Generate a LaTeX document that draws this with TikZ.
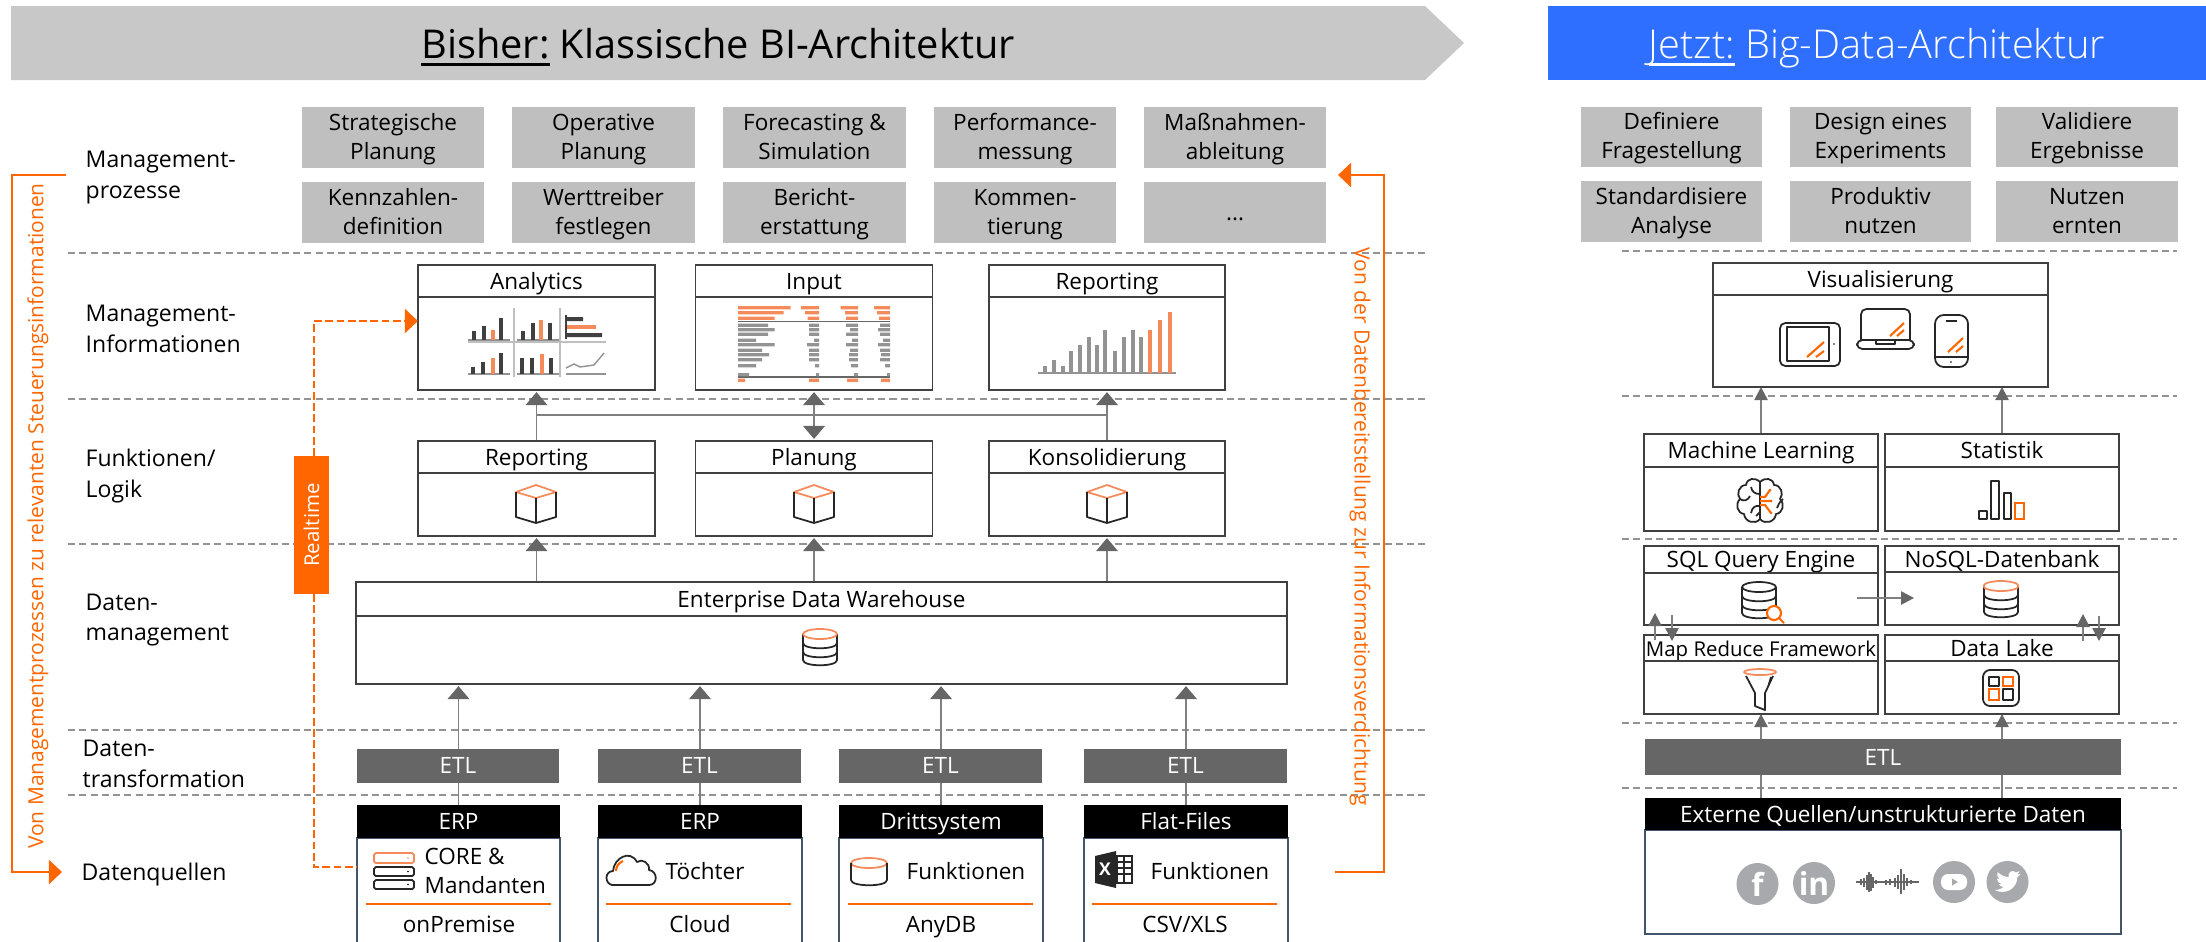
\documentclass[tikz,border=0pt]{standalone}
\usepackage{fontspec}
\setmainfont{Open Sans}
\newfontfamily\ltfont{Open Sans Light}
\usetikzlibrary{arrows.meta,backgrounds}
\definecolor{orColor}{HTML}{FF6600}
\definecolor{lorColor}{HTML}{F58B5A}
\definecolor{hdColor}{HTML}{C8C8C8}
\definecolor{blColor}{HTML}{2F6FFF}
\definecolor{pmColor}{HTML}{BFBFBF}
\definecolor{etlColor}{HTML}{666666}
\definecolor{lnColor}{HTML}{808080}
\definecolor{inkColor}{HTML}{404040}
\definecolor{srcColor}{HTML}{44546A}
\definecolor{socColor}{HTML}{A7A9AC}
\definecolor{barColor}{HTML}{939393}
\newcommand{\bdfont}{\fontsize{6.4}{8.2}\selectfont}
\newcommand{\lbfont}{\fontsize{6.55}{8.8}\selectfont}
\newcommand{\smfont}{\fontsize{5.8}{7}\selectfont}
\newcommand{\hdfont}{\fontsize{11.3}{13}\selectfont}
\newcommand{\hdul}[1]{\setbox0\hbox{#1}\rlap{\rule[-2.2pt]{\wd0}{.85pt}}\box0\relax}
\newcommand{\gbar}[3]{\fill[inkColor] (#1-2,#2) rectangle (#1+2,#3);}
\newcommand{\obar}[3]{\fill[lorColor] (#1-2,#2) rectangle (#1+2,#3);}
\newcommand{\lbar}[3]{\fill[barColor] (#1-2,#2) rectangle (#1+2,#3);}
\newcommand{\inrow}[6][barColor]{\fill[#1] (738,#2) rectangle (#3,#2+3.3) (819,#2) rectangle (#4,#2+3.3) (858,#2) rectangle (#5,#2+3.3) (890,#2) rectangle (#6,#2+3.3);}
\tikzset{
	cube/.pic={
		\draw[iconline,lorColor] (-20,0) -- (0,-7) -- (20,0) -- (0,6) -- cycle;
		\draw[iconline] (-20,0) -- (-20,25) -- (0,31) -- (20,25) -- (20,0) (0,6) -- (0,31);
	},
	dbtop/.pic={
		\draw[iconline] (-17,0) -- (-17,26) .. controls (-17,33) and (17,33) .. (17,26) -- (17,0);
		\draw[iconline] (-17,9) .. controls (-17,16) and (17,16) .. (17,9);
		\draw[iconline] (-17,18) .. controls (-17,25) and (17,25) .. (17,18);
	},
	brainhalf/.pic={
		\draw[iconline] (0,-18) .. controls (-5,-23) and (-13,-22) .. (-14,-15) .. controls (-21,-15) and (-24,-6) .. (-20,-1) .. controls (-25,4) and (-23,13) .. (-16,14) .. controls (-15,22) and (-5,25) .. (0,19) -- cycle;
	},
	pmbox/.style={fill=pmColor,minimum width=1.82cm,minimum height=.61cm,inner sep=0,outer sep=0,align=center,font=\bdfont,text height=14pt,text depth=1.6pt},
	sdbox/.style={pmbox,minimum width=1.81cm,minimum height=.605cm},
	labl/.style={anchor=west,align=left,inner sep=0,font=\lbfont},
	srctx/.style={labl,font=\bdfont},
	ttl/.style={draw=inkColor,fill=white,line width=.45pt,inner sep=0,outer sep=0,font=\bdfont,text height=5.5pt,text depth=.9pt},
	bdy/.style={draw=inkColor,fill=white,line width=.45pt,inner sep=0,outer sep=0},
	etlbox/.style={fill=etlColor,text=white,inner sep=0,outer sep=0,minimum height=.34cm,font=\bdfont,text height=5.5pt,text depth=.9pt},
	srcttl/.style={fill=black,text=white,inner sep=0,outer sep=0,minimum height=.33cm,font=\bdfont,text height=5.5pt,text depth=.9pt},
	srcbdy/.style={draw=srcColor,fill=white,line width=.45pt,inner sep=0,outer sep=0},
	sep/.style={dash pattern=on 2pt off 1.2pt,barColor,line width=.35pt},
	flow/.style={-{Triangle[length=3.7pt,width=6.2pt,color=etlColor]},lnColor,line width=.4pt,shorten >=.6pt},
	flowb/.style={{Triangle[length=3.7pt,width=6.2pt,color=etlColor]}-{Triangle[length=3.7pt,width=6.2pt,color=etlColor]},lnColor,line width=.4pt,shorten >=.6pt,shorten <=.6pt},
	flows/.style={-{Triangle[length=3.7pt,width=3.8pt,color=etlColor]},lnColor,line width=.4pt},
	orflow/.style={-{Triangle[length=3.7pt,width=6.8pt]},orColor,line width=.7pt},
	ordash/.style={orColor,line width=.7pt,dash pattern=on 2.2pt off 1pt},
	iconline/.style={line width=.5pt,black!85,line join=round},
	orline/.style={line width=.6pt,orColor},
	sodot/.style={circle,fill=socColor,text=white,minimum size=.42cm,inner sep=0,font=\bfseries\fontsize{9}{9}\selectfont},
	rottxt/.style={orColor,inner sep=0,font=\fontsize{5.95}{7}\selectfont}
}
\begin{document}
\begin{tikzpicture}[x=0.01cm,y=-0.01cm]
	\useasboundingbox (0,0) rectangle (2206,941);
	% headers
	\fill[hdColor] (11,6) -- (1425,6) -- (1464,43) -- (1425,80) -- (11,80) -- cycle;
	\node[font=\hdfont,text height=10pt,text depth=1.4pt] (hdold) at (718,43) {\hdul{Bisher:} Klassische BI-Architektur};
	\node[fill=blColor,minimum width=6.58cm,minimum height=.74cm,inner sep=0,text=white,font=\ltfont\hdfont,text height=10pt,text depth=1.4pt] (hdnew) at (1877,43) {\hdul{Jetzt:} Big-Data-Architektur};
	
	% row labels
	\node[labl] (lb1) at (85,178) {Management-\\prozesse};
	\node[labl] (lb2) at (85,329) {Management-\\Informationen};
	\node[labl] (lb3) at (85,476) {Funktionen/\\Logik};
	\node[labl] (lb4) at (85,620) {Daten-\\management};
	\node[labl] (lb5) at (82,764) {Daten-\\transformation};
	\node[labl] (lb6) at (81,874) {Datenquellen};
	
	% management processes
	\node[pmbox] (pm1) at (393,137.5) {Strategische\\Planung};
	\node[pmbox] (pm2) at (603.5,137.5) {Operative\\Planung};
	\node[pmbox] (pm3) at (814.5,137.5) {Forecasting \&\\Simulation};
	\node[pmbox] (pm4) at (1025,137.5) {Performance-\\messung};
	\node[pmbox] (pm5) at (1235,137.5) {Maßnahmen-\\ableitung};
	\node[pmbox] (pm6) at (393,212.5) {Kennzahlen-\\definition};
	\node[pmbox] (pm7) at (603.5,212.5) {Werttreiber\\festlegen};
	\node[pmbox] (pm8) at (814.5,212.5) {Bericht-\\erstattung};
	\node[pmbox] (pm9) at (1025,212.5) {Kommen-\\tierung};
	\node[pmbox,text height=5.5pt,text depth=.7pt] (pm10) at (1235,212.5) {...};
	
	\node[sdbox] (st1) at (1671.5,137) {Definiere\\Fragestellung};
	\node[sdbox] (st2) at (1880.5,137) {Design eines\\Experiments};
	\node[sdbox] (st3) at (2087,137) {Validiere\\Ergebnisse};
	\node[sdbox] (st4) at (1671.5,211.5) {Standardisiere\\Analyse};
	\node[sdbox] (st5) at (1880.5,211.5) {Produktiv\\nutzen};
	\node[sdbox] (st6) at (2087,211.5) {Nutzen\\ernten};
	
	% information boxes
	\node[ttl,minimum width=2.37cm,minimum height=.32cm] (an) at (536.5,281) {Analytics};
	\node[bdy,minimum width=2.37cm,minimum height=.93cm] (anb) at (536.5,343.5) {};
	\node[ttl,minimum width=2.37cm,minimum height=.32cm] (ip) at (814,281) {Input};
	\node[bdy,minimum width=2.37cm,minimum height=.93cm] (ipb) at (814,343.5) {};
	\node[ttl,minimum width=2.36cm,minimum height=.32cm] (rp) at (1107,281) {Reporting};
	\node[bdy,minimum width=2.36cm,minimum height=.93cm] (rpb) at (1107,343.5) {};
	
	\node[ttl,minimum width=2.37cm,minimum height=.32cm] (fr) at (536.5,457) {Reporting};
	\node[bdy,minimum width=2.37cm,minimum height=.63cm] (frb) at (536.5,504.5) {};
	\node[ttl,minimum width=2.37cm,minimum height=.32cm] (fp) at (814,457) {Planung};
	\node[bdy,minimum width=2.37cm,minimum height=.63cm] (fpb) at (814,504.5) {};
	\node[ttl,minimum width=2.36cm,minimum height=.32cm] (fk) at (1107,457) {Konsolidierung};
	\node[bdy,minimum width=2.36cm,minimum height=.63cm] (fkb) at (1107,504.5) {};
	
	\node[ttl,minimum width=9.31cm,minimum height=.34cm] (edw) at (821.5,599) {Enterprise Data Warehouse};
	\node[bdy,minimum width=9.31cm,minimum height=.68cm] (edwb) at (821.5,650) {};
	
	% ETL and sources
	\node[etlbox,minimum width=2.02cm] (etl1) at (458,765.5) {ETL};
	\node[etlbox,minimum width=2.03cm] (etl2) at (699.5,765.5) {ETL};
	\node[etlbox,minimum width=2.03cm] (etl3) at (940.5,765.5) {ETL};
	\node[etlbox,minimum width=2.03cm] (etl4) at (1185.5,765.5) {ETL};
	
	\node[srcbdy,minimum width=2.03cm,minimum height=1.08cm] (sb1) at (458.5,892) {};
	\node[srcbdy,minimum width=2.04cm,minimum height=1.08cm] (sb2) at (700,892) {};
	\node[srcbdy,minimum width=2.04cm,minimum height=1.08cm] (sb3) at (941,892) {};
	\node[srcbdy,minimum width=2.04cm,minimum height=1.08cm] (sb4) at (1186,892) {};
	\node[srcttl,minimum width=2.03cm] (sr1) at (458.5,821.5) {ERP};
	\node[srcttl,minimum width=2.04cm] (sr2) at (700,821.5) {ERP};
	\node[srcttl,minimum width=2.04cm] (sr3) at (941,821.5) {Drittsystem};
	\node[srcttl,minimum width=2.04cm] (sr4) at (1186,821.5) {Flat-Files};
	
	\node[srctx] (tx1) at (424,871) {CORE \&\\Mandanten};
	\node[srctx] (tx2) at (665,871) {Töchter};
	\node[srctx] (tx3) at (906,871) {Funktionen};
	\node[srctx] (tx4) at (1150,871) {Funktionen};
	\node[font=\bdfont,inner sep=0,text height=5.5pt,text depth=.9pt] (ty1) at (459,924) {onPremise};
	\node[font=\bdfont,inner sep=0,text height=5.5pt,text depth=.9pt] (ty2) at (700,924) {Cloud};
	\node[font=\bdfont,inner sep=0,text height=5.5pt,text depth=.9pt] (ty3) at (941,924) {AnyDB};
	\node[font=\bdfont,inner sep=0,text height=5.5pt,text depth=.9pt] (ty4) at (1185,924) {CSV/XLS};
	
	\draw[orline] (366,904) -- (551,904) (606,904) -- (791,904) (848,904) -- (1033,904) (1092,904) -- (1277,904);
	
	% right column
	\node[ttl,minimum width=3.345cm,minimum height=.32cm] (vis) at (1880.5,279) {Visualisierung};
	\node[bdy,minimum width=3.345cm,minimum height=.92cm] (visb) at (1880.5,341) {};
	\node[ttl,minimum width=2.34cm,minimum height=.33cm] (ml) at (1761,450.5) {Machine Learning};
	\node[bdy,minimum width=2.34cm,minimum height=.64cm] (mlb) at (1761,499) {};
	\node[ttl,minimum width=2.34cm,minimum height=.33cm] (sta) at (2002,450.5) {Statistik};
	\node[bdy,minimum width=2.34cm,minimum height=.64cm] (stab) at (2002,499) {};
	\node[ttl,minimum width=2.34cm,minimum height=.27cm] (sql) at (1761,559.5) {SQL Query Engine};
	\node[bdy,minimum width=2.34cm,minimum height=.52cm] (sqlb) at (1761,599) {};
	\node[ttl,minimum width=2.34cm,minimum height=.26cm] (nos) at (2002,559) {NoSQL-Datenbank};
	\node[bdy,minimum width=2.34cm,minimum height=.53cm] (nosb) at (2002,598.5) {};
	\node[ttl,minimum width=2.34cm,minimum height=.26cm,font=\smfont] (mr) at (1761,648) {Map Reduce Framework};
	\node[bdy,minimum width=2.34cm,minimum height=.53cm] (mrb) at (1761,687.5) {};
	\node[ttl,minimum width=2.34cm,minimum height=.26cm] (dl) at (2002,648) {Data Lake};
	\node[bdy,minimum width=2.34cm,minimum height=.53cm] (dlb) at (2002,687.5) {};
	\node[etlbox,minimum width=4.76cm,minimum height=.36cm] (etlr) at (1883,757) {ETL};
	\node[srcbdy,minimum width=4.76cm,minimum height=1.04cm] (exb) at (1883,882) {};
	\node[srcttl,minimum width=4.76cm,minimum height=.32cm] (ex) at (1883,814) {Externe Quellen/unstrukturierte Daten};
	
	% realtime
	\node[fill=orColor,text=white,rotate=90,minimum width=1.38cm,minimum height=.35cm,inner sep=0,outer sep=0,font=\smfont] (rt) at (311.5,525) {Realtime};
	
	% feedback labels
	\node[rottxt,rotate=90] (fbl) at (38,516) {Von Managementprozessen zu relevanten Steuerungsinformationen};
	\node[rottxt,rotate=-90] (fbr) at (1360,527) {Von der Datenbereitstellung zur Informationsverdichtung};
	
	\coordinate (cl1) at (66,175);
	\coordinate (cl2) at (12,175);
	\coordinate (cl3) at (12,872);
	\coordinate (cl4) at (62,872);
	\coordinate (cr1) at (1335,872);
	\coordinate (cr2) at (1384,872);
	\coordinate (cr3) at (1384,175);
	\coordinate (cr4) at (1338,175);
	\draw[orflow] (cl1) -- (cl2) -- (cl3) -- (cl4);
	\draw[orflow] (cr1) -- (cr2) -- (cr3) -- (cr4);
	\coordinate (rt1) at (314,321);
	\coordinate (rt2) at (314,867);
	\coordinate (rt3) at (404,321);
	\draw[ordash] (rt.east -| rt1) -- (rt1) -- (rt3);
	\draw[orflow] (rt3) -- (anb.north west |- rt1);
	\draw[ordash] (rt.west -| rt2) -- (rt2) -- (sb1.west |- rt2);
	
	% analytics icon
	\draw[pmColor,line width=.4pt] (514,308) -- (514,377) (560,308) -- (560,377) (468,342) -- (606,342);
	\draw[barColor,line width=.4pt] (468,340) -- (510,340) (517,340) -- (559,340) (468,374) -- (510,374) (517,374) -- (559,374) (566,374) -- (606,374);
	\gbar{474}{331}{340}\gbar{484}{326}{340}\obar{493}{330}{340}\gbar{501}{318}{340}
	\gbar{523}{331}{340}\gbar{533}{323}{340}\obar{541}{320}{340}\gbar{550}{323}{340}
	\draw[inkColor,line width=.4pt] (566,315) -- (566,339);
	\fill[inkColor] (567,317) rectangle (583,321) (567,333) rectangle (602,337);
	\fill[lorColor] (567,325) rectangle (596,329);
	\gbar{473}{367}{374}\gbar{483}{362}{374}\obar{493}{358}{374}\gbar{501}{353}{374}
	\gbar{522}{358}{374}\gbar{532}{358}{374}\obar{542}{354}{374}\gbar{551}{358}{374}
	\draw[barColor,line width=.4pt] (566,368) -- (574,364) -- (580,367) -- (594,365) -- (604,353);
	
	% input table icon
	\inrow[lorColor]{306}{790.5}{801}{840.5}{874}
	\inrow[lorColor]{311}{783.5}{805}{845}{877}
	\inrow[lorColor]{316.5}{774.5}{807.5}{846}{879}
	\draw[etlColor,line width=.4pt] (738,321.7) -- (890,321.7) (738,377) -- (890,377);
	\inrow{323.5}{768}{809}{846}{880}
	\inrow{328}{774.5}{809}{850}{878}
	\inrow{332.5}{768}{809}{846}{880}
	\inrow{338.5}{756}{814}{852}{883}
	\inrow{343}{774.5}{807}{846}{878}
	\inrow{348.5}{762}{809}{850}{880}
	\inrow{353}{769}{809}{849}{881}
	\inrow{358}{762}{809}{849}{880}
	\inrow{364}{756}{815}{851}{885}
	\inrow{373}{749}{816}{854}{887}
	\inrow[lorColor]{378.5}{745}{809}{847}{881}
	
	% reporting chart icon
	\draw[barColor,line width=.4pt] (1038,373) -- (1176,373);
	\lbar{1045}{366}{373}\lbar{1054}{360}{373}\lbar{1063}{366}{373}\lbar{1071}{351}{373}\lbar{1079.5}{345}{373}\lbar{1089}{337}{373}\lbar{1096.5}{345}{373}\lbar{1105}{330}{373}\lbar{1115}{351}{373}\lbar{1124}{337}{373}\lbar{1133}{330}{373}\lbar{1141}{337}{373}
	\obar{1150}{330}{373}\obar{1160}{320}{373}\obar{1170}{312}{373}
	
	% cubes and databases
	\pic at (536,492) {cube};
	\pic at (814,492) {cube};
	\pic at (1107,492) {cube};
	\pic at (820,634) {dbtop};
	\draw[iconline,lorColor] (820,634) ellipse (17 and 5);
	\pic at (2001,586) {dbtop};
	\draw[iconline,lorColor] (2001,586) ellipse (17.5 and 5);
	\pic at (1759,587) {dbtop};
	\draw[iconline] (1759,587) ellipse (17 and 5);
	\draw[orline,fill=white] (1774,613) circle (7);
	\draw[orline] (1779,618) -- (1784,623);
	
	% source icons
	\draw[iconline,lorColor,rounded corners=.5pt] (374,853) rectangle (414,863);
	\draw[iconline,rounded corners=.5pt] (374,867) rectangle (414,876) (374,880) rectangle (414,889);
	\fill[lorColor] (408,858) circle (.8);
	\fill[black] (408,871.5) circle (.8) (408,884.5) circle (.8);
	\draw[iconline] (612,885) .. controls (604,883) and (605,871) .. (613,871) .. controls (614,858) and (630,849) .. (637,862) .. controls (642,858) and (650,863) .. (649,870) .. controls (658,871) and (658,885) .. (649,885) -- cycle;
	\draw[orline] (616,871) .. controls (616,866) and (619,863) .. (623,861);
	\draw[iconline,lorColor] (869,863) ellipse (18 and 5);
	\draw[iconline] (851,863) -- (851,880) .. controls (851,887) and (887,887) .. (887,880) -- (887,863);
	\fill[inkColor!60!black] (1095,856) -- (1116,851) -- (1116,888) -- (1095,883) -- cycle;
	\node[text=white,inner sep=0,font=\bfseries\fontsize{5}{5}\selectfont] (xl) at (1105,869) {X};
	\draw[inkColor!60!black,line width=.4pt] (1117,856) rectangle (1132,883) (1117,862) -- (1132,862) (1117,868) -- (1132,868) (1117,874) -- (1132,874) (1124,856) -- (1124,883);
	
	% device icons
	\draw[iconline,rounded corners=1.5pt] (1780,323) rectangle (1840,366);
	\draw[iconline] (1787,327) rectangle (1829,361);
	\fill[black] (1834,344) circle (.8);
	\draw[orline] (1807,357) -- (1824,342) (1816,357) -- (1824,351);
	\draw[iconline,rounded corners=1.5pt] (1861,340) -- (1861,309) -- (1910,309) -- (1910,340);
	\draw[iconline,rounded corners=1.5pt] (1857,340) rectangle (1914,349);
	\draw[iconline] (1876,340) -- (1876,344) -- (1895,344) -- (1895,340);
	\draw[orline] (1890,336) -- (1904,323) (1897,336) -- (1904,330);
	\draw[iconline,rounded corners=2.5pt] (1935,315) rectangle (1968,367);
	\draw[iconline] (1935,357) -- (1968,357) (1946,321) -- (1957,321);
	\fill[black] (1951,362) circle (.8);
	\draw[orline] (1948,352) -- (1963,338) (1956,352) -- (1963,346);
	
	% brain
	\pic at (1760,500) {brainhalf};
	\pic[xscale=-1] at (1760,500) {brainhalf};
	\draw[iconline] (1760,494) .. controls (1755,494) and (1752,492) .. (1751,487) (1740,499) .. controls (1744,502) and (1748,500) .. (1750,496) (1760,506) .. controls (1756,505) and (1752,507) .. (1751,513) (1760,512) -- (1756,516);
	\draw[iconline] (1783,499) .. controls (1779,502) and (1778,506) .. (1777,508);
	\draw[orline] (1760,497) -- (1765,497) -- (1770,490) (1760,501) -- (1771,501) (1760,505) -- (1765,505) -- (1771,513);
	\fill[orColor] (1770,490) circle (1.5) (1771,501) circle (1.5) (1771,513) circle (1.5);
	
	% statistic bars
	\draw[iconline] (1979,511) rectangle (1987,519) (1991,481) rectangle (1999,519) (2004,493) rectangle (2011,519);
	\draw[orline] (2015,503) rectangle (2024,519);
	
	% funnel and tiles
	\draw[iconline,lorColor] (1760,672) ellipse (16 and 3);
	\draw[iconline] (1746,676) -- (1755,693) -- (1755,706) -- (1765,710) -- (1765,693) -- (1773,676) (1768,687) -- (1771,677);
	\draw[iconline,rounded corners=2pt] (1983,670) rectangle (2019,706);
	\draw[iconline] (1989,677) rectangle (1999,686) (2003,689) rectangle (2013,700);
	\draw[orline] (2003,677) rectangle (2013,686) (1989,689) rectangle (1999,700);
	
	% social icons
	\node[sodot] (fb) at (1757.5,884) {f};
	\node[sodot] (li) at (1814,883) {in};
	\node[sodot] (yt) at (1954,882) {};
	\node[sodot] (tw) at (2007.5,882) {};
	\fill[white,rounded corners=2pt] (1941,874) rectangle (1967,890);
	\fill[socColor] (1952,878.5) -- (1958,882) -- (1952,885.5) -- cycle;
	\fill[white] (1994.5,890) .. controls (2004.5,895) and (2016.5,890) .. (2017.5,877) -- (2020.5,874) -- (2017.5,874.5) -- (2019.5,871) -- (2016,872.5) .. controls (2012.5,869) and (2007.5,872) .. (2008.5,877) .. controls (2004.5,877) and (2000.5,875) .. (1997.5,872) .. controls (1996.5,875) and (1997.5,878) .. (1999.5,879) -- (1997,878.5) .. controls (1997,881) and (1998.5,883) .. (2001.5,884) -- (1998.5,884) .. controls (1999.5,886) and (2001.5,887) .. (2003.5,887) .. controls (2001.5,889) and (1997.5,890) .. (1994.5,890) -- cycle;
	\draw[etlColor,line width=.35pt] (1856,882) -- (1919,882);
	\draw[etlColor,line width=.6pt] (1861,879) -- (1861,885) (1864,878) -- (1864,887) (1867,875) -- (1867,890) (1869,872) -- (1869,892) (1871,874) -- (1871,891) (1873,877) -- (1873,888) (1876,880) -- (1876,884) (1886,880) -- (1886,885) (1890,879) -- (1890,885) (1895,878) -- (1895,887) (1898,875) -- (1898,889) (1901,869) -- (1901,894) (1904,874) -- (1904,890) (1907,878) -- (1907,886) (1911,880) -- (1911,884);
	
	\begin{pgfonlayer}{background}
		\coordinate (sl1) at (68,253);
		\coordinate (sr1l) at (1425,253);
		\coordinate (sl2) at (68,399);
		\coordinate (sr2l) at (1425,399);
		\coordinate (sl3) at (68,544);
		\coordinate (sr3l) at (1425,544);
		\coordinate (sl4) at (68,730);
		\coordinate (sr4l) at (1425,730);
		\coordinate (sl5) at (68,795);
		\coordinate (sr5l) at (1425,795);
		\draw[sep] (sl1) -- (sr1l);
		\draw[sep] (sl2) -- (sr2l);
		\draw[sep] (sl3) -- (sr3l);
		\draw[sep] (sl4) -- (sr4l);
		\draw[sep] (sl5) -- (sr5l);
		\coordinate (rl1) at (1622,251);
		\coordinate (rr1) at (2177,251);
		\coordinate (rl2) at (1622,396);
		\coordinate (rr2) at (2177,396);
		\coordinate (rl3) at (1622,539);
		\coordinate (rr3) at (2177,539);
		\coordinate (rl4) at (1622,723);
		\coordinate (rr4) at (2177,723);
		\coordinate (rl5) at (1622,788);
		\coordinate (rr5) at (2177,788);
		\draw[sep] (rl1) -- (rr1);
		\draw[sep] (rl2) -- (rr2);
		\draw[sep] (rl3) -- (rr3);
		\draw[sep] (rl4) -- (rr4);
		\draw[sep] (rl5) -- (rr5);
		
		\coordinate (bus) at (536.5,415);
		\draw[flow] (fr.north) -- (anb.south);
		\draw[flowb] (fp.north) -- (ipb.south);
		\draw[flow] (fk.north) -- (rpb.south);
		\draw[lnColor,line width=.4pt] (bus) -- (bus -| fk.north);
		
		\draw[flow] (edw.north -| frb.south) -- (frb.south);
		\draw[flow] (edw.north -| fpb.south) -- (fpb.south);
		\draw[flow] (edw.north -| fkb.south) -- (fkb.south);
		
		\draw[flow] (sr1.north) -- (sr1.north |- edwb.south);
		\draw[flow] (sr2.north) -- (sr2.north |- edwb.south);
		\draw[flow] (sr3.north) -- (sr3.north |- edwb.south);
		\draw[flow] (sr4.north) -- (sr4.north |- edwb.south);
		
		\draw[flows] (ml.north) -- (ml.north |- visb.south);
		\draw[flows] (sta.north) -- (sta.north |- visb.south);
		\draw[flows] (etlr.north -| mrb.south) -- (mrb.south);
		\draw[flows] (etlr.north -| dlb.south) -- (dlb.south);
		\draw[flows,-] (ex.north -| mrb.south) -- (etlr.south -| mrb.south);
		\draw[flows,-] (ex.north -| dlb.south) -- (etlr.south -| dlb.south);
	\end{pgfonlayer}
	
	\coordinate (qa) at (1857,598);
	\coordinate (qb) at (1914,598);
	\draw[flows] (qa) -- (qb);
	\coordinate (ua) at (1655,640);
	\coordinate (ub) at (1655,613);
	\coordinate (da) at (1672,615);
	\coordinate (db) at (1672,641);
	\draw[flows] (ua) -- (ub);
	\draw[flows] (da) -- (db);
	\coordinate (uc) at (2083,641);
	\coordinate (ud) at (2083,614);
	\coordinate (dc) at (2099,616);
	\coordinate (dd) at (2099,641);
	\draw[flows] (uc) -- (ud);
	\draw[flows] (dc) -- (dd);
\end{tikzpicture}
\end{document}
